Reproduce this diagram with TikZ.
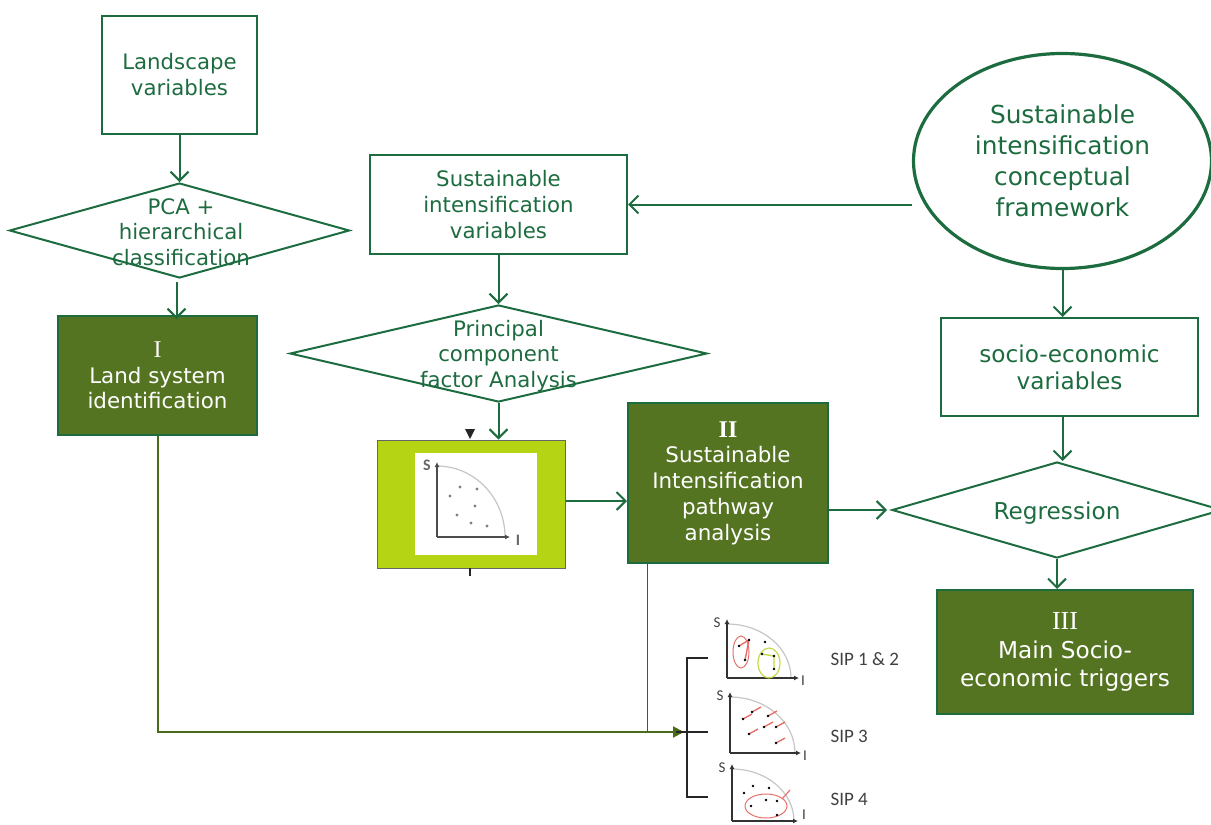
\documentclass[tikz,border=0pt]{standalone}
\usepackage{fontspec}
\setmainfont{DejaVu Sans}
\newfontfamily\romf{Liberation Serif}
\newfontfamily\calf{Carlito}
\usetikzlibrary{shapes.geometric,arrows.meta}
\definecolor{tgreen}{HTML}{1D6C40}
\definecolor{olivef}{HTML}{557422}
\definecolor{olivel}{HTML}{4A6A1C}
\definecolor{limef}{HTML}{B4D414}
\definecolor{sipred}{HTML}{E8706A}
\definecolor{sipgreen}{HTML}{C2D94A}
\definecolor{sipgray}{HTML}{404040}
\begin{document}
\begin{tikzpicture}[x=1pt,y=-1pt,
  box/.style={draw=tgreen,line width=2pt,text=tgreen,align=center,inner sep=0pt,font=\fontsize{21.3}{26}\selectfont,execute at begin node={\rule{0pt}{21pt}}},
  rbox/.style={draw=tgreen,line width=2pt,text=tgreen,align=center,inner sep=0pt,font=\fontsize{23.2}{27}\selectfont},
  resbox/.style={draw=tgreen,line width=2pt,fill=olivef,text=white,align=center,inner sep=0pt,font=\fontsize{21.4}{25.7}\selectfont,execute at begin node={\rule{0pt}{20pt}}},
  dia/.style={draw=tgreen,line width=2pt,shape=diamond,inner sep=0pt},
  dtext/.style={text=tgreen,align=center,font=\fontsize{21.3}{25.5}\selectfont},
  arr/.style={draw=tgreen,line width=2pt,-{Straight Barb[length=9pt,width=18pt,line width=2pt]}},
  axis/.style={line width=1.8pt,draw=black!80,-{Latex[length=5pt,width=5pt]}},
  sip/.style={text=sipgray,font=\calf\fontsize{19}{22}\selectfont,anchor=west},
  axl/.style={text=sipgray,font=\calf\fontsize{15}{17}\selectfont},
]
\useasboundingbox (0,0) rectangle (1211,825);

% top-left column
\node[box,minimum width=155pt,minimum height=118pt] (land) at (179.5,75) {Landscape\\variables};
\node[dia,minimum width=340pt,minimum height=95pt] (pca) at (179.5,230.5) {};
\node[dtext] at (181,232) {PCA +\\hierarchical\\classification};
\node[resbox,minimum width=199pt,minimum height=119pt] (boxI) at (157.5,375.5) {{\romf\fontsize{24}{25.7}\selectfont I}\\Land system\\identification};

% middle column
\node[box,minimum width=257pt,minimum height=99pt] (siv) at (498.5,204.5) {Sustainable\\intensification\\variables};
\node[dia,minimum width=417pt,minimum height=97pt] (pcfa) at (498.5,353.5) {};
\node[dtext] at (498.5,356) {Principal\\component\\factor Analysis};
\node[draw=black!60,line width=1pt,fill=limef,minimum width=188pt,minimum height=128pt,inner sep=0pt] (img) at (471,504) {};
\node[resbox,minimum width=200pt,minimum height=160pt] (boxII) at (728,483) {{\romf\bfseries\fontsize{24}{25.7}\selectfont II}\\Sustainable\\Intensification\\pathway\\analysis};

% right column
\node[draw=tgreen,line width=3.2pt,shape=ellipse,minimum width=298pt,minimum height=215pt,inner sep=0pt,text=tgreen,align=center,font=\fontsize{24.8}{31}\selectfont] (frame) at (1062.5,161) {Sustainable\\intensification\\conceptual\\framework};
\node[rbox,minimum width=257pt,minimum height=98pt] (socio) at (1069.5,367) {socio-economic\\variables};
\node[dia,minimum width=330pt,minimum height=96pt] (reg) at (1057,510) {};
\node[text=tgreen,font=\fontsize{23.2}{27}\selectfont] at (1057,513) {Regression};
\node[resbox,minimum width=256pt,minimum height=124pt,font=\fontsize{23.2}{28.5}\selectfont,execute at begin node={\rule{0pt}{23pt}}] (boxIII) at (1065,652) {{\romf\fontsize{26}{28.5}\selectfont III}\\Main Socio-\\economic triggers};

% arrows
\draw[arr] (land.south) -- (pca.north);
\draw[arr] (pca.south -| boxI.north) ++(19,3) -- ([xshift=19pt,yshift=-4pt]boxI.north);
\draw[arr] (frame.west |- siv.east) -- (siv.east);
\draw[arr] (siv.south) -- (pcfa.north);
\draw[arr] (pcfa.south) -- (pcfa.south |- img.north);
\draw[arr] ([yshift=3pt]img.east) -- ([yshift=3pt]img.east -| boxII.west);
\draw[arr] (boxII.east |- reg.west) -- ([xshift=-4pt]reg.west);
\draw[arr] (frame.south) -- (frame.south |- socio.north);
\draw[arr] (frame.south |- socio.south) -- (frame.south |- reg.north);
\draw[arr] (reg.south) -- (reg.south |- boxIII.north);

% image contents
\fill[black!85] (465,429) -- (475,429) -- (470,439) -- cycle;
\draw[black!85,line width=2.5pt] (470,568) -- (470,576);
\fill[white] (415,453) rectangle (537,555);
\draw[gray!45,line width=1.2pt] (437,466) arc[start angle=270,end angle=360,x radius=68,y radius=71];
\draw[axis,draw=black!70] (437,537) -- (437,462);
\draw[axis,draw=black!70] (437,537) -- (510,537);
\node[axl,text=black!60,font=\calf\fontsize{16}{18}\selectfont\bfseries] at (427,465) {S};
\node[axl,text=black!60,font=\calf\fontsize{16}{18}\selectfont\bfseries] at (518,540) {I};
\foreach \p in {(450,496),(460,487),(477,489),(475,506),(457,515),(471,523),(487,526)}
  \fill[gray] \p circle (1.7);

% bottom connectors
\coordinate (brk) at (684,732);
\coordinate (b2top) at (647.5,563);
\draw[olivel,line width=2pt,-{Triangle[length=11pt,width=11pt]}] (boxI.south) -- (boxI.south |- brk) -- (brk);
\draw[tgreen,line width=1.8pt] (b2top) -- (b2top |- brk);
\draw[black!85,line width=2.2pt] (708,658) -- (687,658) -- (687,797) -- (708,797);
\draw[black!85,line width=2.2pt] (676,732) -- (708,732);

% SIP 1 & 2
\draw[gray!45,line width=1.2pt] (727,624) arc[start angle=270,end angle=360,x radius=64,y radius=54];
\draw[axis] (727,678) -- (727,619);
\draw[axis] (727,678) -- (799,678);
\node[axl] at (717,623) {S};
\node[axl] at (803,681) {I};
\draw[sipred,line width=1pt] (741,652) ellipse[x radius=8,y radius=16];
\draw[sipgreen,line width=1.2pt] (769,663) ellipse[x radius=11,y radius=15];
\draw[sipred,line width=1.4pt] (739,646) -- (749,640) -- (745,660);
\draw[sipgreen,line width=1.4pt] (762,654) -- (774,656) -- (774,669);
\foreach \p in {(739,646),(749,640),(745,660),(765,642),(762,654),(774,656),(774,669)}
  \fill[black] \p circle (1.3);
\node[sip] at (827,659) {SIP 1 \& 2};

% SIP 3
\draw[gray!45,line width=1.2pt] (730,697) arc[start angle=270,end angle=360,x radius=65,y radius=56];
\draw[axis] (730,753) -- (730,692);
\draw[axis] (730,753) -- (801,753);
\node[axl] at (720,696) {S};
\node[axl] at (805,756) {I};
\foreach \p in {(743,719),(752,712),(768,716),(764,727),(776,727),(749,734),(776,743)}{
  \draw[sipred,line width=1.4pt] \p -- ++(9,-5);
  \fill[black] \p circle (1.3);
}
\node[sip] at (827,736) {SIP 3};

% SIP 4
\draw[gray!45,line width=1.2pt] (732,769) arc[start angle=270,end angle=360,x radius=62,y radius=52];
\draw[axis] (732,821) -- (732,764);
\draw[axis] (732,821) -- (798,821);
\node[axl] at (722,768) {S};
\node[axl] at (804,815) {I};
\draw[sipred,line width=1pt] (766,806) ellipse[x radius=21,y radius=12];
\draw[sipred,line width=1.2pt] (782,799) -- (790,790);
\foreach \p in {(753,786),(744,793),(769,788),(766,800),(777,801),(751,806),(777,815)}
  \fill[black] \p circle (1.3);
\node[sip] at (827,799) {SIP 4};
\end{tikzpicture}
\end{document}
